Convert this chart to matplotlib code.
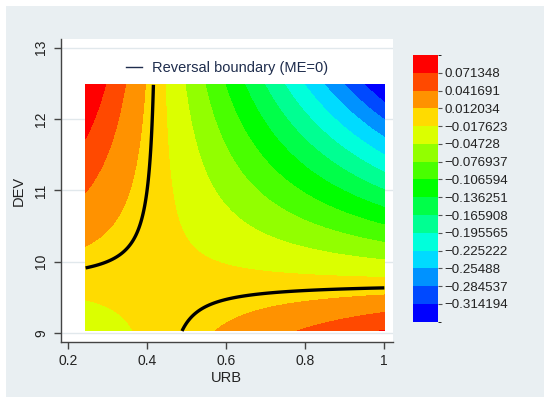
import numpy as np
import matplotlib
matplotlib.use("Agg")
import matplotlib.pyplot as plt
from matplotlib.colors import ListedColormap, BoundaryNorm, hsv_to_rgb
from matplotlib.patches import Rectangle
from matplotlib.lines import Line2D
import matplotlib.cm as cm

plt.rcParams['font.family'] = ['Liberation Sans', 'DejaVu Sans']

# Marginal effect surface: ME = b0 + b_urb*URB + b_dev*DEV + b_int*URB*DEV
b0 = -0.89187
b_urb = 2.0559
b_dev = 0.09106
b_int = -0.21188

urb_range = [0.244, 1.0]
dev_range = [9.03, 12.48]

# contour cut levels (colour-bar labels)
cut_levels = [-0.343851, -0.314194, -0.284537, -0.25488, -0.225222, -0.195565,
              -0.165908, -0.136251, -0.106594, -0.076937, -0.04728, -0.017623,
              0.012034, 0.041691, 0.071348, 0.101005]
cut_labels = ["−0.314194", "−0.284537", "−0.25488", "−0.225222", "−0.195565",
              "−0.165908", "−0.136251", "−0.106594", "−0.076937", "−0.04728",
              "−0.017623", "0.012034", "0.041691", "0.071348"]

x_ticks = [0.2, 0.4, 0.6, 0.8, 1.0]
x_ticklabels = ["0.2", "0.4", "0.6", "0.8", "1"]
y_ticks = [9, 10, 11, 12, 13]

n_bins = len(cut_levels) - 1
colors = [hsv_to_rgb((240.0 * (n_bins - 1 - i) / (n_bins - 1) / 360.0, 1, 1)) for i in range(n_bins)]
cmap = ListedColormap(colors)
norm = BoundaryNorm(cut_levels, n_bins)

U = np.linspace(urb_range[0], urb_range[1], 400)
D = np.linspace(dev_range[0], dev_range[1], 400)
UU, DD = np.meshgrid(U, D)
ME = b0 + b_urb * UU + b_dev * DD + b_int * UU * DD

fig = plt.figure(figsize=(5.5, 4.04), dpi=100)
fig.patch.set_facecolor('white')
fig.patches.append(Rectangle((6 / 550, 7 / 404), 538 / 550, 391 / 404, transform=fig.transFigure,
                             facecolor='#E9EFF2', edgecolor='none', zorder=-10))

ax = fig.add_axes([60.7 / 550, 62.3 / 404, 332.3 / 550, 302.4 / 404])
ax.set_facecolor('white')

fill_levels = [-10] + cut_levels[1:-1] + [10]
ax.contourf(UU, DD, ME, levels=fill_levels, colors=colors, zorder=2)
ax.contour(UU, DD, ME, levels=[0], colors='black', linewidths=2.4, zorder=3)

ax.set_xlim(0.181, 1.022)
ax.set_ylim(8.88, 13.118)
ax.set_xticks(x_ticks)
ax.set_xticklabels(x_ticklabels)
ax.set_yticks(y_ticks)
ax.set_yticklabels([str(t) for t in y_ticks], rotation=90, va='center')
ax.grid(axis='y', color='#E1E8EC', linewidth=1.0, zorder=0)
ax.set_axisbelow(True)
for s in ['top', 'right']:
    ax.spines[s].set_visible(False)
for s in ['left', 'bottom']:
    ax.spines[s].set_color('#444444')
    ax.spines[s].set_linewidth(1.0)
ax.tick_params(direction='out', length=5, width=1, color='#444444', labelsize=10,
               labelcolor='#222222', pad=4)
ax.set_xlabel('URB', fontsize=10.5, color='#222222', labelpad=2)
ax.set_ylabel('DEV', fontsize=10.5, color='#222222', labelpad=6)

leg = ax.legend(handles=[Line2D([0], [0], color='#1F2D4D', lw=1.0)],
                labels=['Reversal boundary (ME=0)'], loc='upper center',
                bbox_to_anchor=(0.5, 0.97), frameon=False, fontsize=10.5,
                handlelength=1.1, handletextpad=0.7)
for t in leg.get_texts():
    t.set_color('#1F2D4D')

cax = fig.add_axes([412.7 / 550, 82.3 / 404, 25 / 550, 266.7 / 404])
sm = cm.ScalarMappable(norm=norm, cmap=cmap)
cb = fig.colorbar(sm, cax=cax, boundaries=cut_levels, spacing='uniform')
cb.set_ticks(cut_levels[1:-1])
cb.set_ticklabels(cut_labels)
cb.outline.set_visible(False)
cax.tick_params(length=3, width=0.8, color='#555555', labelsize=9.6, labelcolor='#222222', pad=2)

fig.savefig('out.png', dpi=100, facecolor=fig.get_facecolor())
